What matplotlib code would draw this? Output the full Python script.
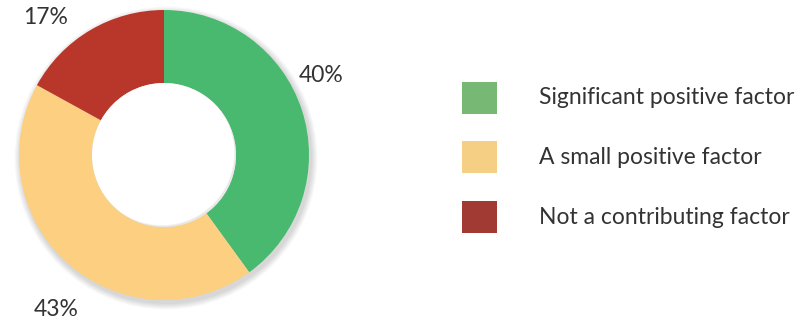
import numpy as np
import matplotlib
matplotlib.use("Agg")
import matplotlib.pyplot as plt
from matplotlib.patches import Circle, Rectangle

# share of respondents for each answer
categories = ["Significant positive factor", "A small positive factor", "Not a contributing factor"]
shares = [40, 43, 17]
pct_labels = ["40%", "43%", "17%"]

ring_colors = ["#48b96e", "#fdd081", "#b9372a"]
legend_colors = ["#76b874", "#f4cf84", "#a03a33"]

W, H = 810, 323
fig = plt.figure(figsize=(W / 100, H / 100), dpi=100)
ax = fig.add_axes([0, 0, 1, 1])

cx, cy = 164, H - 155
R, ring_w = 145, 73

# soft drop shadow under the ring
for k in range(8):
    ax.add_patch(Circle((cx + 2, cy - 3), R + 1 + k * 0.8, color="#000000",
                        alpha=0.02, lw=0, zorder=0))

wedges, _ = ax.pie(shares, colors=ring_colors, startangle=90, counterclock=False,
                   center=(cx, cy), radius=R,
                   wedgeprops=dict(width=ring_w, linewidth=0), frame=True)
ax.set_xlim(0, W)
ax.set_ylim(0, H)
ax.set_aspect("equal")
ax.axis("off")

# inner shadow inside the hole, heaviest toward the upper left
r_in = R - ring_w
ax.add_patch(Circle((cx, cy), r_in, color="white", lw=0, zorder=3))
hole = Circle((cx, cy), r_in, transform=ax.transData)
for k in range(7):
    c = Circle((cx - 2, cy + 2), r_in + 1 + k, fill=False, ec="#000000",
               lw=1.2, alpha=0.06 * (1 - k / 7), zorder=4)
    ax.add_patch(c)
    c.set_clip_path(hole)

# percentage labels outside the ring
label_pos = [(321, H - 75), (56, H - 310), (46, H - 18)]
txt_kw = dict(fontsize=16.5, color="#333333", family="Lato", ha="center", va="center")
for (x, y), t in zip(label_pos, pct_labels):
    ax.text(x, y, t, **txt_kw)

# legend
box_x, box_w, box_h = 462, 35, 32
rows_y = [98, 157, 217]
for yc, col, name in zip(rows_y, legend_colors, categories):
    ax.add_patch(Rectangle((box_x, H - yc - box_h / 2), box_w, box_h, color=col, lw=0))
    ax.text(539, H - yc, name, fontsize=16.5, color="#333333", family="Lato",
            ha="left", va="center")

fig.savefig("out.png", dpi=100, facecolor="white")
